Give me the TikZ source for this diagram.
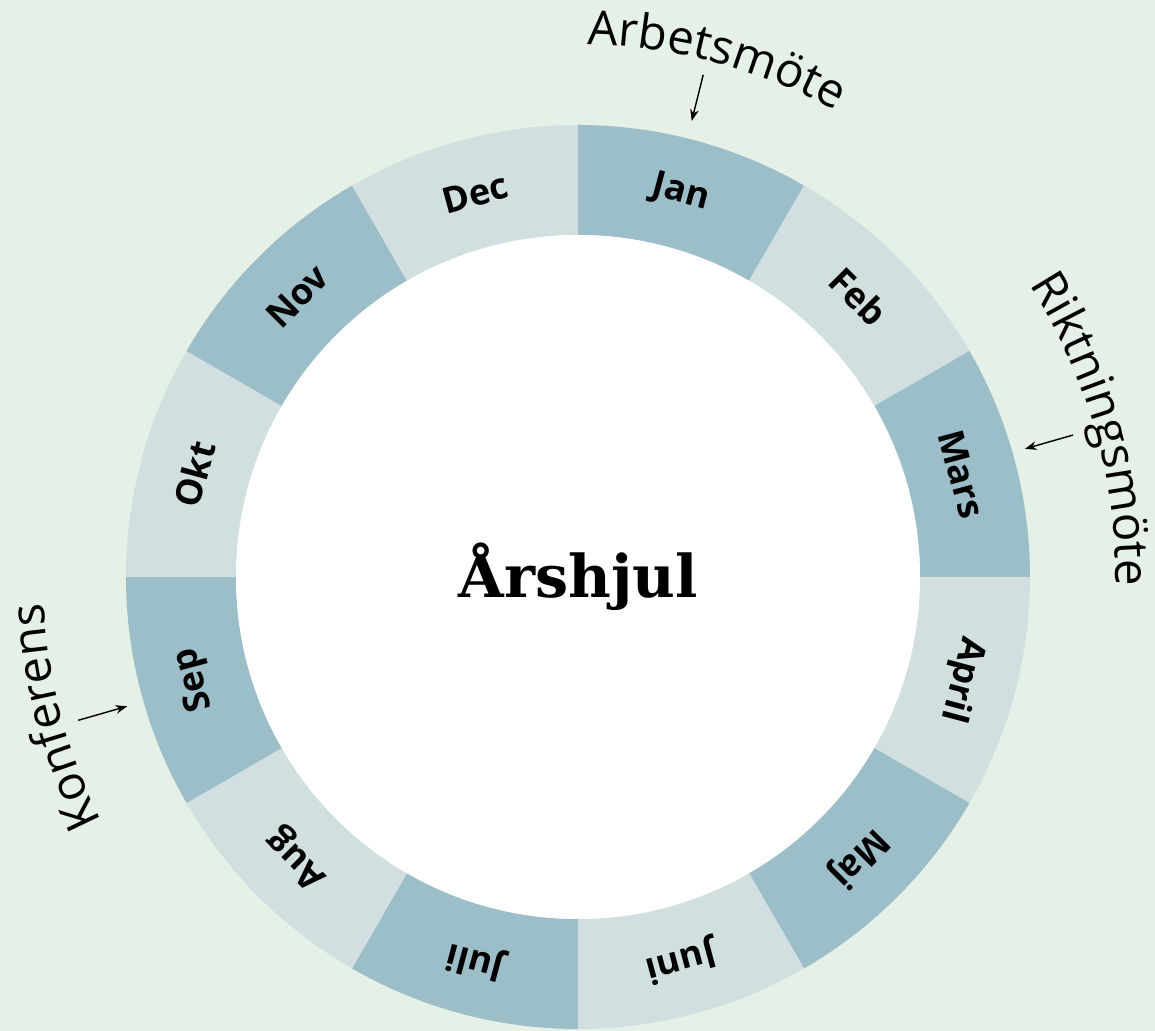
\documentclass[tikz,border=0pt]{standalone}
\usepackage{fontspec}
\setmainfont{Open Sans}
\newfontfamily\titlefont{DejaVu Serif}
\usetikzlibrary{arrows.meta,decorations.text}
\definecolor{bgGreen}{HTML}{E5F0E7}
\definecolor{segDark}{HTML}{9CBEC9}
\definecolor{segLight}{HTML}{D2DFE0}
\newcommand{\outerR}{9.04}
\newcommand{\innerR}{6.84}

\begin{document}
\begin{tikzpicture}[
    >=Stealth,
    month/.style={font=\fontsize{20.5}{24}\selectfont\bfseries, inner sep=0pt},
    hub/.style={circle, fill=white, minimum size=13.68cm, inner sep=0pt, font=\titlefont\fontsize{33.5}{40}\selectfont\bfseries},
    pointer/.style={->, line width=0.8pt, shorten >=0pt},
    curved label/.style={decorate, decoration={text along path, text align=center, text={|\fontsize{27}{30}\selectfont|#1}}}
  ]

    % bakgrund
    \fill[bgGreen] (-11.56,-9.08) rectangle (11.54,11.54);
    \useasboundingbox (-11.56,-9.08) rectangle (11.54,11.54);

    % månadssegment
    \foreach \m [count=\i from 0] in {Jan,Feb,Mars,April,Maj,Juni,Juli,Aug,Sep,Okt,Nov,Dec}{
      \pgfmathsetmacro{\a}{90-30*\i}
      \ifodd\i \def\segcol{segLight}\else\def\segcol{segDark}\fi
      \fill[\segcol] (\a:\outerR) arc[start angle=\a, end angle=\a-30, radius=\outerR]
        -- (\a-30:\innerR) arc[start angle=\a-30, end angle=\a, radius=\innerR] -- cycle;
      \node[month, rotate=\a-105] (m\m) at (\a-15:7.94) {\m};
    }

    % mitten
    \node[hub] (hub) at (0,0) {Årshjul};

    % böjda etiketter
    \path[curved label=Arbetsmöte] (115:10.65) arc[start angle=115, end angle=35, radius=10.65];
    \path[curved label=Riktningsmöte] (61:10.75) arc[start angle=61, end angle=-29, radius=10.75];
    \path[curved label=Konferens] (240:10.7) arc[start angle=240, end angle=150, radius=10.7];

    % pilar
    \coordinate (arbTail) at (76:10.35);
    \coordinate (arbHead) at (76:9.4);
    \coordinate (rikTail) at (16:10.3);
    \coordinate (rikHead) at (16:9.3);
    \coordinate (konTail) at (196:10.4);
    \coordinate (konHead) at (196:9.38);
    \draw[pointer] (arbTail) -- (arbHead);
    \draw[pointer] (rikTail) -- (rikHead);
    \draw[pointer] (konTail) -- (konHead);

  \end{tikzpicture}
\end{document}
